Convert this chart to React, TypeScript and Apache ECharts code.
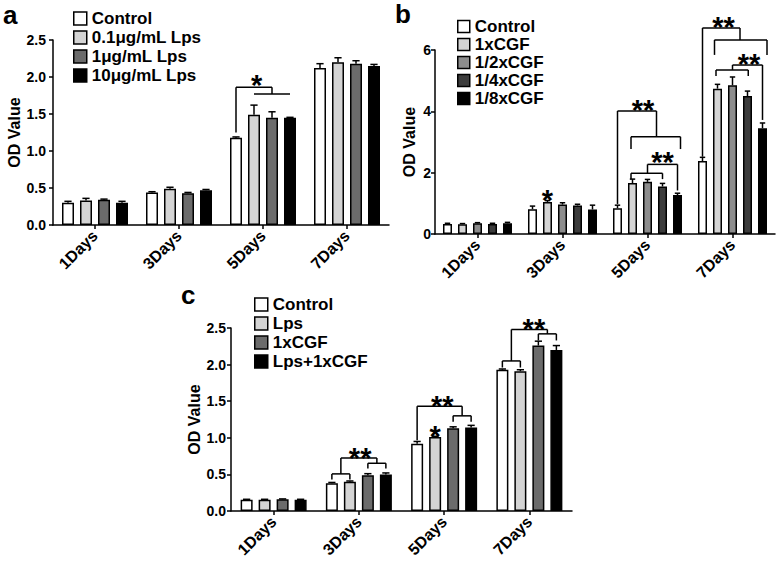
import React, { useEffect, useRef } from 'react';
import * as echarts from 'echarts';

const categories = ['1Days', '3Days', '5Days', '7Days'];

// ---------- Panel a ----------
const aNames = ['Control', '0.1μg/mL Lps', '1μg/mL Lps', '10μg/mL Lps'];
const aControl = [0.30, 0.44, 1.18, 2.12];
const aLps01 = [0.33, 0.49, 1.49, 2.20];
const aLps1 = [0.34, 0.43, 1.45, 2.18];
const aLps10 = [0.30, 0.47, 1.45, 2.15];
const aControlErr = [0.02, 0.01, 0.01, 0.06];
const aLps01Err = [0.03, 0.02, 0.13, 0.06];
const aLps1Err = [0.01, 0.01, 0.08, 0.04];
const aLps10Err = [0.02, 0.01, 0.005, 0.02];
const aColors = ['#ffffff', '#d4d4d4', '#6b6b6b', '#000000'];
// bracket segments: [category, barPos1, value1, barPos2, value2]
const aBrackets = [
  [2, 0, 1.25, 0, 1.86],
  [2, 0, 1.86, 2, 1.86],
  [2, 2, 1.86, 2, 1.77],
  [2, 1, 1.77, 3, 1.77],
];
const aStars = [[2, 1.15, 1.98]];
const aStarText = ['*'];

// ---------- Panel b ----------
const bNames = ['Control', '1xCGF', '1/2xCGF', '1/4xCGF', '1/8xCGF'];
const bControl = [0.33, 0.81, 0.84, 2.38];
const b1x = [0.32, 1.04, 1.66, 4.74];
const bHalf = [0.35, 0.96, 1.70, 4.85];
const bQuarter = [0.33, 0.93, 1.55, 4.50];
const bEighth = [0.35, 0.80, 1.27, 3.45];
const bControlErr = [0.02, 0.10, 0.10, 0.12];
const b1xErr = [0.02, 0.05, 0.13, 0.14];
const bHalfErr = [0.02, 0.06, 0.08, 0.27];
const bQuarterErr = [0.02, 0.04, 0.10, 0.16];
const bEighthErr = [0.03, 0.14, 0.06, 0.17];
const bColors = ['#ffffff', '#d4d4d4', '#8c8c8c', '#3c3c3c', '#000000'];
const bBrackets = [
  [2, 0, 0.98, 0, 4.01],
  [2, 0, 4.01, 2.6, 4.01],
  [2, 2.6, 4.01, 2.6, 3.17],
  [2, 0.9, 3.17, 4.2, 3.17],
  [2, 0.9, 3.17, 0.9, 2.77],
  [2, 4.2, 3.17, 4.2, 2.77],
  [2, 0.9, 1.98, 3.0, 1.98],
  [2, 0.9, 1.98, 0.9, 1.79],
  [2, 3.0, 1.98, 3.0, 1.79],
  [2, 2, 1.98, 2, 2.27],
  [2, 2, 2.27, 4, 2.27],
  [2, 4, 2.27, 4, 1.42],
  [3, 0, 2.52, 0, 6.72],
  [3, 0, 6.72, 2.5, 6.72],
  [3, 2.5, 6.72, 2.5, 6.33],
  [3, 0.8, 6.33, 4.3, 6.33],
  [3, 0.8, 6.33, 0.8, 5.84],
  [3, 4.3, 6.33, 4.3, 5.84],
  [3, 0.9, 5.35, 3.05, 5.35],
  [3, 0.9, 5.35, 0.9, 5.15],
  [3, 3.05, 5.35, 3.05, 5.15],
  [3, 2, 5.35, 2, 5.51],
  [3, 2, 5.51, 4, 5.51],
  [3, 4, 5.51, 4, 3.72],
];
const bStars = [[1, 1, 1.33], [2, 1.7, 4.27], [2, 3.0, 2.58], [3, 1.4, 6.98], [3, 3.1, 5.77]];
const bStarText = ['*', '**', '**', '**', '**'];

// ---------- Panel c ----------
const cNames = ['Control', 'Lps', '1xCGF', 'Lps+1xCGF'];
const cControl = [0.155, 0.38, 0.92, 1.93];
const cLps = [0.155, 0.40, 1.01, 1.91];
const c1x = [0.16, 0.49, 1.13, 2.26];
const cLps1x = [0.155, 0.50, 1.14, 2.20];
const cControlErr = [0.005, 0.01, 0.03, 0.01];
const cLpsErr = [0.005, 0.01, 0.01, 0.02];
const c1xErr = [0.005, 0.02, 0.02, 0.06];
const cLps1xErr = [0.005, 0.02, 0.03, 0.06];
const cColors = ['#ffffff', '#d4d4d4', '#6b6b6b', '#000000'];
const cBrackets = [
  [1, 0, 0.507, 1, 0.507],
  [1, 0, 0.507, 0, 0.43],
  [1, 1, 0.507, 1, 0.43],
  [1, 2, 0.652, 3, 0.652],
  [1, 2, 0.652, 2, 0.58],
  [1, 3, 0.652, 3, 0.58],
  [1, 0.5, 0.507, 0.5, 0.725],
  [1, 0.5, 0.725, 2.5, 0.725],
  [1, 2.5, 0.725, 2.5, 0.652],
  [2, 0, 0.965, 0, 1.43],
  [2, 0, 1.43, 2.5, 1.43],
  [2, 2.5, 1.43, 2.5, 1.30],
  [2, 2, 1.30, 3, 1.30],
  [2, 2, 1.30, 2, 1.22],
  [2, 3, 1.30, 3, 1.22],
  [3, 0, 2.05, 1, 2.05],
  [3, 0, 2.05, 0, 1.96],
  [3, 1, 2.05, 1, 1.96],
  [3, 0.5, 2.05, 0.5, 2.48],
  [3, 0.5, 2.48, 2.5, 2.48],
  [3, 2.5, 2.48, 2.5, 2.42],
  [3, 2, 2.42, 3, 2.42],
  [3, 2, 2.42, 2, 2.33],
  [3, 3, 2.42, 3, 2.33],
];
const cStars = [[1, 1.57, 0.815], [2, 1, 1.12], [2, 1.4, 1.52], [3, 1.75, 2.58]];
const cStarText = ['**', '*', '**', '**'];

const FONT = 'Liberation Sans, Arial, Helvetica, sans-serif';
const STAR_SIZE = 29;

type Panel = {
  key: string;
  names: string[];
  values: number[][];
  errs: number[][];
  colors: string[];
  brackets: number[][];
  stars: number[][];
  starText: string[];
  barWidth: number;
  pitch: number;
  grid: { left: number; top: number; width: number; height: number };
  yMax: number;
  yInterval: number;
  decimals: number;
  labelMargin: number;
  nameGap: number;
  legend: { left: number; top: number; itemGap: number; itemSize: number };
};

const panels: Panel[] = [
  {
    key: 'a', names: aNames,
    values: [aControl, aLps01, aLps1, aLps10],
    errs: [aControlErr, aLps01Err, aLps1Err, aLps10Err],
    colors: aColors, brackets: aBrackets, stars: aStars, starText: aStarText,
    barWidth: 12, pitch: 18,
    grid: { left: 53, top: 40, width: 336, height: 185 },
    yMax: 2.5, yInterval: 0.5, decimals: 1, labelMargin: 7, nameGap: 30,
    legend: { left: 73, top: 10, itemGap: 2, itemSize: 13 },
  },
  {
    key: 'b', names: bNames,
    values: [bControl, b1x, bHalf, bQuarter, bEighth],
    errs: [bControlErr, b1xErr, bHalfErr, bQuarterErr, bEighthErr],
    colors: bColors, brackets: bBrackets, stars: bStars, starText: bStarText,
    barWidth: 9, pitch: 15,
    grid: { left: 435, top: 50, width: 340, height: 184 },
    yMax: 6, yInterval: 2, decimals: 0, labelMargin: 4, nameGap: 18,
    legend: { left: 457, top: 18, itemGap: 1, itemSize: 12 },
  },
  {
    key: 'c', names: cNames,
    values: [cControl, cLps, c1x, cLps1x],
    errs: [cControlErr, cLpsErr, c1xErr, cLps1xErr],
    colors: cColors, brackets: cBrackets, stars: cStars, starText: cStarText,
    barWidth: 12, pitch: 18,
    grid: { left: 231, top: 328, width: 341, height: 183 },
    yMax: 2.5, yInterval: 0.5, decimals: 1, labelMargin: 5, nameGap: 28,
    legend: { left: 254, top: 296, itemGap: 2, itemSize: 13 },
  },
];

function buildOption() {
  const grids: any[] = [];
  const xAxes: any[] = [];
  const yAxes: any[] = [];
  const legends: any[] = [];
  const series: any[] = [];

  panels.forEach((p, gi) => {
    const n = p.names.length;
    const gap = p.pitch - p.barWidth;
    const barGap = `${((gap / p.barWidth) * 100).toFixed(1)}%`;
    const off = (pos: number) => (pos - (n - 1) / 2) * p.pitch;

    grids.push({ ...p.grid, containLabel: false });
    xAxes.push({
      type: 'category', gridIndex: gi, data: categories,
      axisLine: { show: true, lineStyle: { color: '#000', width: 1.5 } },
      axisTick: { show: true, alignWithLabel: true, length: 4, lineStyle: { color: '#000', width: 1.5 } },
      axisLabel: {
        rotate: 45, margin: 8, color: '#000', fontSize: 16, fontWeight: 'bold', fontFamily: FONT,
      },
      splitLine: { show: false },
    });
    yAxes.push({
      type: 'value', gridIndex: gi, min: 0, max: p.yMax, interval: p.yInterval,
      name: 'OD Value', nameLocation: 'middle', nameGap: p.nameGap,
      nameTextStyle: { color: '#000', fontSize: 16, fontWeight: 'bold', fontFamily: FONT },
      axisLine: { show: true, lineStyle: { color: '#000', width: 1.5 } },
      axisTick: { show: true, length: 4, lineStyle: { color: '#000', width: 1.5 } },
      axisLabel: {
        margin: p.labelMargin, color: '#000', fontSize: 14, fontWeight: 'bold', fontFamily: FONT,
        formatter: (v: number) => v.toFixed(p.decimals),
      },
      splitLine: { show: false },
    });
    const seriesNames = p.names.map((nm) => `${p.key}|${nm}`);
    legends.push({
      orient: 'vertical', left: p.legend.left, top: p.legend.top,
      itemWidth: p.legend.itemSize, itemHeight: p.legend.itemSize, itemGap: p.legend.itemGap,
      icon: 'rect', data: seriesNames, selectedMode: false,
      formatter: (name: string) => name.split('|')[1],
      itemStyle: { borderColor: '#000', borderWidth: 1.5 },
      textStyle: { color: '#000', fontSize: 17, fontWeight: 'bold', fontFamily: FONT },
      padding: 0,
    });

    p.values.forEach((vals, i) => {
      series.push({
        type: 'bar', name: seriesNames[i], xAxisIndex: gi, yAxisIndex: gi,
        data: vals, barWidth: p.barWidth, barGap,
        itemStyle: { color: p.colors[i], borderColor: '#000', borderWidth: 1.5 },
        z: 2,
      });
    });

    // error bars
    const errData: number[][] = [];
    p.values.forEach((vals, i) => {
      vals.forEach((v, j) => errData.push([j, i, v, p.errs[i][j]]));
    });
    series.push({
      type: 'custom', name: `${p.key}-err`, xAxisIndex: gi, yAxisIndex: gi,
      clip: false, silent: true, z: 3, encode: { x: 0, y: 2 }, data: errData,
      renderItem: (_params: any, api: any) => {
        const cat = api.value(0), pos = api.value(1), v = api.value(2), e = api.value(3);
        const a = api.coord([cat, v]);
        const b = api.coord([cat, v + e]);
        const x = a[0] + off(pos);
        const cap = p.barWidth * 0.3;
        const st = { stroke: '#000', lineWidth: 1.5, fill: 'none' };
        return {
          type: 'group',
          children: [
            { type: 'line', shape: { x1: x, y1: a[1], x2: x, y2: b[1] }, style: st },
            { type: 'line', shape: { x1: x - cap, y1: b[1], x2: x + cap, y2: b[1] }, style: st },
          ],
        };
      },
    });

    // significance brackets
    series.push({
      type: 'custom', name: `${p.key}-brackets`, xAxisIndex: gi, yAxisIndex: gi,
      clip: false, silent: true, z: 4, encode: { x: 0, y: 2 }, data: p.brackets,
      renderItem: (_params: any, api: any) => {
        const cat = api.value(0);
        const a = api.coord([cat, api.value(2)]);
        const b = api.coord([cat, api.value(4)]);
        return {
          type: 'line',
          shape: { x1: a[0] + off(api.value(1)), y1: a[1], x2: b[0] + off(api.value(3)), y2: b[1] },
          style: { stroke: '#000', lineWidth: 1.5, fill: 'none' },
        };
      },
    });

    // stars
    series.push({
      type: 'custom', name: `${p.key}-stars`, xAxisIndex: gi, yAxisIndex: gi,
      clip: false, silent: true, z: 5, encode: { x: 0, y: 2 }, data: p.stars,
      renderItem: (params: any, api: any) => {
        const cat = api.value(0);
        const c = api.coord([cat, api.value(2)]);
        return {
          type: 'text',
          x: c[0] + off(api.value(1)),
          y: c[1] + STAR_SIZE * 0.23,
          style: {
            text: p.starText[params.dataIndex], fill: '#000',
            fontSize: STAR_SIZE, fontWeight: 'bold', fontFamily: FONT,
            align: 'center', verticalAlign: 'middle',
          },
        };
      },
    });
  });

  const panelLabel = (text: string, left: number, y: number) => ({
    type: 'text', left, top: y,
    style: { text, fill: '#000', fontSize: 26, fontWeight: 'bold', fontFamily: FONT },
  });

  return {
    animation: false,
    backgroundColor: '#ffffff',
    grid: grids,
    xAxis: xAxes,
    yAxis: yAxes,
    legend: legends,
    series,
    graphic: [
      panelLabel('a', 3, 2),
      panelLabel('b', 395, 1),
      panelLabel('c', 181, 282),
    ],
  };
}

export default function App() {
  const ref = useRef<HTMLDivElement>(null);
  useEffect(() => {
    if (!ref.current) return;
    const chart = echarts.init(ref.current, undefined, { renderer: 'svg' });
    chart.setOption(buildOption() as any);
    return () => chart.dispose();
  }, []);
  return (
    <div
      ref={ref}
      style={{ position: 'absolute', left: 0, top: 0, width: 778, height: 564, background: '#fff' }}
    />
  );
}
